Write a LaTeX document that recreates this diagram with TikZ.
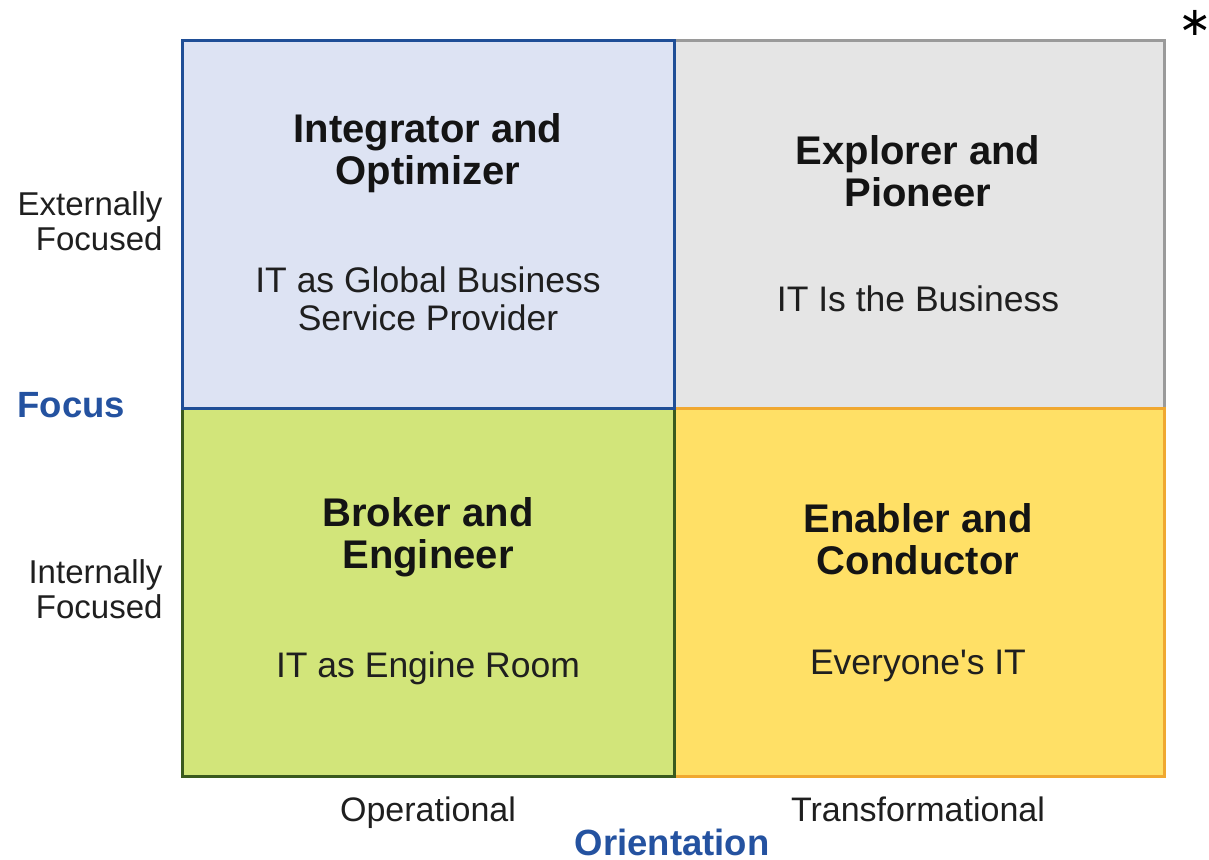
\documentclass[tikz,border=0pt]{standalone}
\usepackage{fontspec}
\setmainfont{Liberation Sans}
\newfontfamily\symfont{DejaVu Sans}
\definecolor{tlfill}{HTML}{DDE3F3}
\definecolor{tlline}{HTML}{1F4E96}
\definecolor{trfill}{HTML}{E5E5E5}
\definecolor{trline}{HTML}{9A9A9A}
\definecolor{blfill}{HTML}{D2E57A}
\definecolor{blline}{HTML}{3A5A1E}
\definecolor{brfill}{HTML}{FFE066}
\definecolor{brline}{HTML}{F0A830}
\definecolor{axisblue}{HTML}{2452A0}
\tikzset{
  quad/.style={line width=3pt},
  title/.style={align=center, font=\fontsize{40}{42}\selectfont\bfseries, text=black!92},
  sub/.style={align=center, font=\fontsize{35.5}{38}\selectfont, text=black!88},
  axislab/.style={align=right, font=\fontsize{33}{35}\selectfont, text=black!88},
  bottomlab/.style={font=\fontsize{34}{36}\selectfont, text=black!88, anchor=base, inner sep=1pt},
  axistitle/.style={font=\fontsize{36.5}{38}\selectfont\bfseries, text=axisblue},
}
\begin{document}
\begin{tikzpicture}[x=1pt,y=-1pt]
\useasboundingbox[fill=white] (0,0) rectangle (1209,859);
% quadrants
\draw[quad, fill=trfill, draw=trline] (674,41) rectangle (1164,408);
\draw[quad, fill=brfill, draw=brline] (674,408) rectangle (1164,776);
\draw[quad, fill=blfill, draw=blline] (182,408) rectangle (674,776);
\draw[quad, fill=tlfill, draw=tlline] (182,41) rectangle (674,408);
% quadrant texts
\node[title] (tlt) at (428,153) {Integrator and\\Optimizer};
\node[sub]   (tls) at (428,299) {IT as Global Business\\Service Provider};
\node[title] (trt) at (918,171) {Explorer and\\Pioneer};
\node[sub]   (trs) at (918,299) {IT Is the Business};
\node[title] (blt) at (428,537) {Broker and\\Engineer};
\node[sub]   (bls) at (428,668) {IT as Engine Room};
\node[title] (brt) at (918,539) {Enabler and\\Conductor};
\node[sub]   (brs) at (918,666) {Everyone\textquotesingle s IT};
% axis labels
\node[axislab, anchor=east] (ext) at (166,221) {Externally\\Focused};
\node[axislab, anchor=east] (int) at (166,589) {Internally\\Focused};
\node[axistitle, anchor=west] (focus) at (14,405) {Focus};
\node[bottomlab] (op) at (428,821) {Operational};
\node[bottomlab] (tf) at (918,821) {Transformational};
\node[axistitle, anchor=base, inner sep=1pt] (orient) at (672,855) {Orientation};
\node[font=\symfont\fontsize{40}{40}\selectfont, inner sep=0pt] (star) at (1195,23) {∗};
\end{tikzpicture}
\end{document}
